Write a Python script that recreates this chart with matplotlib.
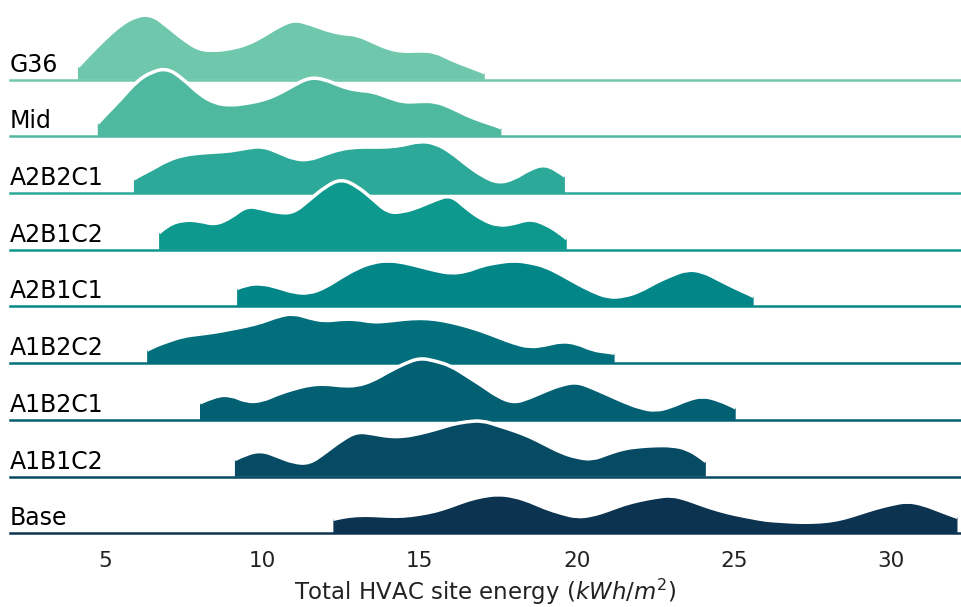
import numpy as np
import matplotlib.pyplot as plt
from matplotlib.path import Path
from matplotlib.patches import PathPatch

# ridgeline of HVAC site energy per scenario
# curve heights (relative density, ~px above baseline)
names = ["G36", "Mid", "A2B2C1", "A2B1C2", "A2B1C1", "A1B2C2", "A1B2C1", "A1B1C2", "Base"]
x_start = [4.14, 4.77, 5.92, 6.72, 9.2, 6.34, 8.02, 9.13, 12.26]
x_end = [17.07, 17.6, 19.62, 19.68, 25.62, 21.2, 25.05, 24.1, 32.1]

g36 = [13, 25, 41, 55, 64, 65, 53, 40, 30, 29, 31, 35, 43, 53, 60, 56, 50, 46, 45, 38,
       31, 28, 29, 28, 20, 14, 8, 7]
mid = [13, 21, 37, 55, 65, 68, 57, 42, 33, 31, 33, 36, 42, 51, 59, 57, 50, 46, 45, 39,
       34, 35, 35, 29, 21, 15, 10, 8.5]
a2b2c1 = [14, 16, 24, 33, 38, 40, 41, 42, 45, 47, 41, 34, 33, 39, 44, 46, 46, 46, 48, 52,
          50, 41, 28, 17, 10, 14, 24, 29, 20, 17]
a2b1c2 = [17, 25, 30, 29, 25, 32, 44, 41, 37, 37, 50, 63, 71, 64, 51, 37, 38, 43, 50, 55,
          41, 30, 24, 26, 31, 26, 16, 11]
a2b1c1 = [18, 22, 23, 19, 14, 13, 19, 29, 38, 44, 46, 44, 40, 36, 33, 35, 41, 44, 46, 44,
          40, 32, 23, 15, 9, 10, 15, 24, 31, 37, 35, 27, 19, 12, 10]
a1b2c2 = [13, 16, 22, 27, 29, 31, 34, 37, 41, 47, 50, 45, 42, 44, 44, 41, 42, 44, 45, 44,
          41, 37, 32, 26, 20, 16, 18, 22, 20, 13, 11, 10]
a1b2c1 = [17, 24, 25, 18, 19, 26, 31, 35, 36, 34, 34, 39, 48, 56, 62, 59, 54, 44, 34, 23,
          17, 22, 29, 35, 38, 32, 25, 18, 12, 9, 13, 20, 24, 20, 13, 12]
a1b1c2 = [17, 23, 26, 20, 14, 13, 24, 36, 45, 43, 40, 40, 43, 47, 52, 55, 56, 51, 46, 40,
          32, 24, 19, 17, 23, 28, 30, 31, 31, 28, 18, 15]
base = [14, 16, 18, 18, 17, 17, 19, 22, 27, 33, 37, 39, 37, 32, 25, 20, 16, 18, 23, 29,
        33, 36, 38, 34, 28, 23, 19, 16, 13, 12, 11, 11, 12, 15, 20, 25, 29, 32, 29, 23, 17, 16]
heights = [g36, mid, a2b2c1, a2b1c2, a2b1c1, a1b2c2, a1b2c1, a1b1c2, base]

colors = ["#6fc8ac", "#4fb9a0", "#2ca998", "#0e998f", "#028688",
          "#02707c", "#035f72", "#064a63", "#0c3451"]

row_px = 56.7
grid = np.arange(1, 70) * 0.5


def smooth_path(xs, ys):
    # quadratic bezier through midpoints, read values act as control points
    verts = [(xs[0], ys[0])]
    codes = [Path.MOVETO]
    for k in range(1, len(xs) - 1):
        if k < len(xs) - 2:
            end = ((xs[k] + xs[k + 1]) / 2, (ys[k] + ys[k + 1]) / 2)
        else:
            end = (xs[k + 1], ys[k + 1])
        verts += [(xs[k], ys[k]), end]
        codes += [Path.CURVE3, Path.CURVE3]
    return verts, codes


fig = plt.figure(figsize=(9.61, 6.07), dpi=100)
ax = fig.add_axes([10 / 961, 1 - 533.3 / 607, 950 / 961, 533.3 / 607])

n = len(names)
for i, name in enumerate(names):
    y0 = n - 1 - i
    inner = grid[(grid > x_start[i]) & (grid < x_end[i])]
    xs = np.concatenate([[x_start[i]], inner, [x_end[i]]])
    ys = y0 + np.array(heights[i]) / row_px
    verts, codes = smooth_path(xs, ys)
    z = 3 * i
    fill_verts = [(xs[0], y0)] + verts + [(xs[-1], y0), (xs[0], y0)]
    fill_codes = [Path.MOVETO, Path.LINETO] + codes[1:] + [Path.LINETO, Path.CLOSEPOLY]
    ax.add_patch(PathPatch(Path(fill_verts, fill_codes), facecolor=colors[i], lw=0, zorder=z))
    ax.add_patch(PathPatch(Path(verts, codes), facecolor="none", edgecolor="white",
                           lw=2.5, zorder=z + 1, capstyle="butt"))
    ax.axhline(y0, color=colors[i], lw=1.8, zorder=z + 2, clip_on=False)
    ax.text(0, y0 + 8 / row_px, name, transform=ax.get_yaxis_transform(),
            ha="left", va="baseline", fontsize=17, color="black", zorder=40)

ax.set_xlim(1.98, 32.18)
ax.set_ylim(0, 533.3 / row_px)
ax.set_yticks([])
ax.set_xticks([5, 10, 15, 20, 25, 30])
ax.tick_params(axis="x", length=0, pad=13, labelsize=15.5, labelcolor="#222222")
for s in ax.spines.values():
    s.set_visible(False)
ax.set_xlabel("Total HVAC site energy ($kWh/m^2$)", fontsize=16.5, color="#222222", labelpad=4)

fig.savefig("out.png", dpi=100)
